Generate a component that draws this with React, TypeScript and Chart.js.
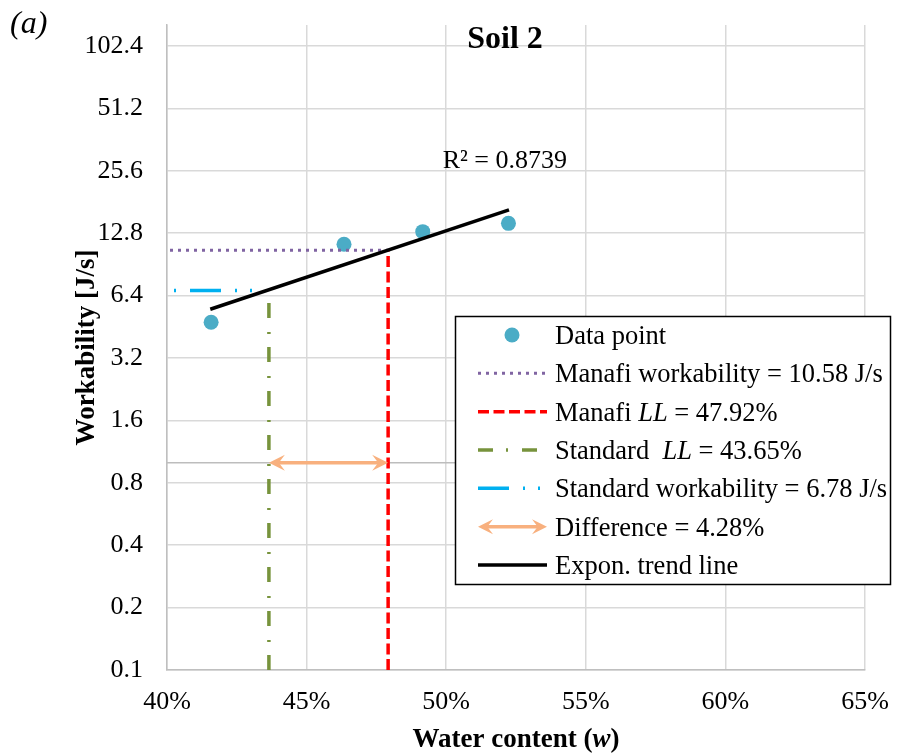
import React, { useEffect, useRef } from 'react';
import { Chart, registerables } from 'chart.js';

Chart.register(...registerables);

// ---- data ----
const waterContent = [41.58, 46.34, 49.16, 52.23];
const workability = [4.76, 11.32, 13.02, 14.28];
const trendX = [41.55, 52.25];
const trendY = [5.5, 16.57];
const manafiWorkability = 10.58;
const manafiLL = 47.92;
const standardLL = 43.65;
const standardWorkability = 6.78;
const difference = 4.28;
const standardLineEndX = 43.3;
const differenceY = 1.0;
const r2Label = 'R² = 0.8739';
const r2Anchor = [52.1, 26.4];
const xTickValues = [40, 45, 50, 55, 60, 65];
const xTickLabels = ['40%', '45%', '50%', '55%', '60%', '65%'];
const yTickValues = [0.1, 0.2, 0.4, 0.8, 1.6, 3.2, 6.4, 12.8, 25.6, 51.2, 102.4];
const yTickLabels = ['0.1', '0.2', '0.4', '0.8', '1.6', '3.2', '6.4', '12.8', '25.6', '51.2', '102.4'];
const xMin = 40;
const xMax = 65;
const yMin = 0.1;
const yMax = 129.3;

const SERIF = '"Liberation Serif", "Times New Roman", serif';
const COLORS = {
  point: '#4BACC6',
  purple: '#8064A2',
  red: '#FF0000',
  green: '#77933C',
  cyan: '#00B0F0',
  orange: '#F8B07E',
  black: '#000000',
  grid: '#d9d9d9',
  axis: '#bfbfbf',
  refGray: '#bdbdbd',
};
const DASH_PURPLE = [3, 5];
const DASH_RED = [11, 4.5];
const DASH_GREEN = [15, 13, 2, 14];
const DASH_CYAN = [31, 14, 2, 13, 2, 14];

type Run = { text: string; font: string };

function drawRuns(ctx: CanvasRenderingContext2D, runs: Run[], x: number, y: number, align: 'left' | 'center') {
  let total = 0;
  const widths = runs.map((r) => {
    ctx.font = r.font;
    const w = ctx.measureText(r.text).width;
    total += w;
    return w;
  });
  let cx = align === 'center' ? x - total / 2 : x;
  ctx.textAlign = 'left';
  ctx.textBaseline = 'alphabetic';
  runs.forEach((r, i) => {
    ctx.font = r.font;
    ctx.fillText(r.text, cx, y);
    cx += widths[i];
  });
}

function drawDoubleArrow(ctx: CanvasRenderingContext2D, x1: number, x2: number, y: number, color: string, lw: number, headLen: number, headHalf: number) {
  ctx.save();
  ctx.strokeStyle = color;
  ctx.fillStyle = color;
  ctx.lineWidth = lw;
  ctx.setLineDash([]);
  ctx.beginPath();
  ctx.moveTo(x1 + headLen * 0.5, y);
  ctx.lineTo(x2 - headLen * 0.5, y);
  ctx.stroke();
  const head = (tx: number, dir: number) => {
    ctx.beginPath();
    ctx.moveTo(tx, y);
    ctx.lineTo(tx + dir * headLen, y - headHalf);
    ctx.lineTo(tx + dir * headLen * 0.62, y);
    ctx.lineTo(tx + dir * headLen, y + headHalf);
    ctx.closePath();
    ctx.fill();
  };
  head(x1, 1);
  head(x2, -1);
  ctx.restore();
}

function drawDashLine(ctx: CanvasRenderingContext2D, x1: number, x2: number, y: number, color: string, lw: number, dash: number[]) {
  ctx.save();
  ctx.strokeStyle = color;
  ctx.lineWidth = lw;
  ctx.setLineDash(dash);
  ctx.lineDashOffset = 0;
  ctx.lineCap = 'butt';
  ctx.beginPath();
  ctx.moveTo(x1, y);
  ctx.lineTo(x2, y);
  ctx.stroke();
  ctx.restore();
}

const overlayPlugin = {
  id: 'overlay',
  afterDatasetsDraw(chart: any) {
    const ctx: CanvasRenderingContext2D = chart.ctx;
    const xs = chart.scales.x;
    const ys = chart.scales.y;
    const area = chart.chartArea;
    ctx.save();
    ctx.fillStyle = '#000';

    // difference arrow
    const ay = ys.getPixelForValue(differenceY);
    drawDoubleArrow(ctx, xs.getPixelForValue(standardLL), xs.getPixelForValue(manafiLL), ay, COLORS.orange, 3.5, 16, 8);

    // R² label
    ctx.fillStyle = '#000';
    drawRuns(ctx, [{ text: r2Label, font: `26px ${SERIF}` }], xs.getPixelForValue(r2Anchor[0]), ys.getPixelForValue(r2Anchor[1]), 'center');

    // title
    drawRuns(ctx, [{ text: 'Soil 2', font: `bold 32px ${SERIF}` }], 505, 48, 'center');
    // panel label
    drawRuns(ctx, [{ text: '(a)', font: `italic 32px ${SERIF}` }], 10, 33, 'left');

    // x-axis title
    const cx = (area.left + area.right) / 2;
    drawRuns(
      ctx,
      [
        { text: 'Water content (', font: `bold 27px ${SERIF}` },
        { text: 'w', font: `italic bold 27px ${SERIF}` },
        { text: ')', font: `bold 27px ${SERIF}` },
      ],
      cx,
      747,
      'center'
    );
    // y-axis title
    ctx.save();
    ctx.translate(94, (area.top + area.bottom) / 2);
    ctx.rotate(-Math.PI / 2);
    drawRuns(ctx, [{ text: 'Workability [J/s]', font: `bold 27px ${SERIF}` }], 0, 0, 'center');
    ctx.restore();

    // legend
    const L = { x: 455.5, y: 316.5, w: 435, h: 268 };
    ctx.fillStyle = '#fff';
    ctx.fillRect(L.x, L.y, L.w, L.h);
    ctx.strokeStyle = '#000';
    ctx.lineWidth = 1.5;
    ctx.setLineDash([]);
    ctx.strokeRect(L.x, L.y, L.w, L.h);

    const rowBase = 344;
    const rowStep = 38.33;
    const sx1 = 478;
    const sx2 = 547;
    const tx = 555;
    const font = `26.5px ${SERIF}`;
    const ifont = `italic 26.5px ${SERIF}`;
    const rows: Run[][] = [
      [{ text: 'Data point', font }],
      [{ text: `Manafi workability = ${manafiWorkability} J/s`, font }],
      [{ text: 'Manafi ', font }, { text: 'LL', font: ifont }, { text: ` = ${manafiLL}%`, font }],
      [{ text: 'Standard  ', font }, { text: 'LL', font: ifont }, { text: ` = ${standardLL}%`, font }],
      [{ text: `Standard workability = ${standardWorkability} J/s`, font }],
      [{ text: `Difference = ${difference}%`, font }],
      [{ text: 'Expon. trend line', font }],
    ];
    rows.forEach((runs, i) => {
      const by = rowBase + rowStep * i;
      const sy = by - 9;
      ctx.fillStyle = '#000';
      drawRuns(ctx, runs, tx, by, 'left');
      switch (i) {
        case 0:
          ctx.fillStyle = COLORS.point;
          ctx.beginPath();
          ctx.arc(512, sy, 7.5, 0, Math.PI * 2);
          ctx.fill();
          break;
        case 1:
          drawDashLine(ctx, sx1, sx2, sy, COLORS.purple, 3, DASH_PURPLE);
          break;
        case 2:
          drawDashLine(ctx, sx1, sx2, sy, COLORS.red, 3.5, DASH_RED);
          break;
        case 3:
          drawDashLine(ctx, sx1, sx2, sy, COLORS.green, 3.5, DASH_GREEN);
          break;
        case 4:
          drawDashLine(ctx, sx1, sx2, sy, COLORS.cyan, 3.5, DASH_CYAN);
          break;
        case 5:
          drawDoubleArrow(ctx, sx1, sx2, sy, COLORS.orange, 3.5, 15, 7.5);
          break;
        case 6:
          drawDashLine(ctx, sx1, sx2, sy, COLORS.black, 3.5, []);
          break;
      }
    });
    ctx.restore();
  },
};

export default function App() {
  const canvasRef = useRef<HTMLCanvasElement | null>(null);

  useEffect(() => {
    document.body.style.margin = '0';
    const canvas = canvasRef.current;
    if (!canvas) return;

    const lineDs = (data: { x: number; y: number }[], color: string, width: number, dash: number[], order: number, dashOffset = 0) => ({
      type: 'scatter' as const,
      data,
      showLine: true,
      borderColor: color,
      backgroundColor: color,
      borderWidth: width,
      borderDash: dash,
      borderDashOffset: dashOffset,
      borderCapStyle: 'butt' as const,
      pointRadius: 0,
      order,
    });

    const chart = new Chart(canvas, {
      type: 'scatter',
      data: {
        datasets: [
          lineDs([{ x: xMin, y: differenceY }, { x: xMax, y: differenceY }], COLORS.refGray, 1.5, [], 20),
          {
            type: 'scatter',
            data: waterContent.map((x, i) => ({ x, y: workability[i] })),
            pointRadius: 7.5,
            pointBackgroundColor: COLORS.point,
            pointBorderWidth: 0,
            borderWidth: 0,
            order: 15,
          } as any,
          lineDs(trendX.map((x, i) => ({ x, y: trendY[i] })), COLORS.black, 3.5, [], 5),
          lineDs([{ x: xMin, y: manafiWorkability }, { x: manafiLL, y: manafiWorkability }], COLORS.purple, 3, DASH_PURPLE, 6, 5),
          lineDs([{ x: manafiLL, y: yMin }, { x: manafiLL, y: manafiWorkability }], COLORS.red, 3.5, DASH_RED, 7),
          lineDs([{ x: standardLL, y: yMin }, { x: standardLL, y: standardWorkability }], COLORS.green, 3.5, DASH_GREEN, 8),
          lineDs([{ x: xMin, y: standardWorkability }, { x: standardLineEndX, y: standardWorkability }], COLORS.cyan, 3.5, DASH_CYAN, 9, 53),
        ],
      },
      options: {
        animation: false,
        responsive: false,
        maintainAspectRatio: false,
        devicePixelRatio: 1,
        layout: { padding: { left: 0, right: 40, top: 25, bottom: 0 } },
        plugins: {
          legend: { display: false },
          tooltip: { enabled: false },
          title: { display: false },
        },
        scales: {
          x: {
            type: 'linear',
            min: xMin,
            max: xMax,
            afterBuildTicks: (s: any) => {
              s.ticks = xTickValues.map((v) => ({ value: v }));
            },
            afterFit: (s: any) => {
              s.height = 86;
              s.paddingLeft = 0;
              s.paddingRight = 0;
            },
            ticks: {
              callback: (_v: any, i: number) => xTickLabels[i],
              font: { family: SERIF, size: 26 },
              color: '#000',
              padding: 17,
              maxRotation: 0,
              autoSkip: false,
            },
            grid: { color: COLORS.grid, lineWidth: 1.5, drawTicks: false },
            border: { color: COLORS.axis, width: 1.5 },
          },
          y: {
            type: 'logarithmic',
            min: yMin,
            max: yMax,
            afterBuildTicks: (s: any) => {
              s.ticks = yTickValues.map((v) => ({ value: v }));
            },
            afterFit: (s: any) => {
              s.width = 167;
              s.paddingTop = 0;
              s.paddingBottom = 0;
            },
            ticks: {
              callback: (_v: any, i: number) => yTickLabels[i],
              font: { family: SERIF, size: 26 },
              color: '#000',
              padding: 24,
              autoSkip: false,
            },
            grid: { color: COLORS.grid, lineWidth: 1.5, drawTicks: false },
            border: { color: COLORS.axis, width: 1.5 },
          },
        },
      } as any,
      plugins: [overlayPlugin],
    });

    return () => chart.destroy();
  }, []);

  return <canvas ref={canvasRef} width={905} height={756} style={{ display: 'block', width: 905, height: 756 }} />;
}
